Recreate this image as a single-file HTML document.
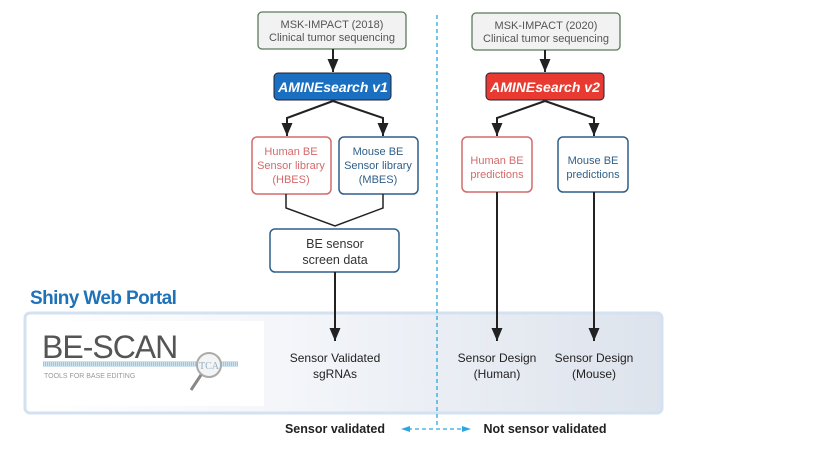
<!DOCTYPE html>
<html><head><meta charset="utf-8"><style>
html,body{margin:0;padding:0;background:#fff;}
svg{display:block;font-family:"Liberation Sans",sans-serif;}
</style></head><body>
<svg width="838" height="454" viewBox="0 0 838 454" xmlns="http://www.w3.org/2000/svg">
<defs>
<linearGradient id="pg" x1="0" x2="1" y1="0" y2="0">
<stop offset="0" stop-color="#ffffff"/><stop offset="0.4" stop-color="#f4f6fa"/><stop offset="1" stop-color="#dde3ec"/>
</linearGradient>
<marker id="ah" markerWidth="14" markerHeight="12" refX="13" refY="5.5" orient="auto" markerUnits="userSpaceOnUse">
<path d="M0,0 L13,5.5 L0,11 Z" fill="#222"/>
</marker>
</defs>
<!-- portal -->
<rect x="25" y="313" width="637" height="100" rx="5" fill="url(#pg)" stroke="#d3e1f1" stroke-width="3"/>
<rect x="34" y="321" width="230" height="85" fill="#fff"/>
<text x="42" y="358" font-size="32" fill="#555" letter-spacing="-1">BE-SCAN</text>
<rect x="43" y="361" width="195" height="6" fill="#cfe3ef"/>
<line x1="43" y1="364" x2="238" y2="364" stroke="#9cc7dd" stroke-width="4" stroke-dasharray="1 1"/>
<text x="44" y="378" font-size="7" fill="#999">TOOLS FOR BASE EDITING</text>
<circle cx="209" cy="365" r="12" fill="#f4f4f4" stroke="#aaa" stroke-width="2"/>
<text x="199" y="369" font-size="10" fill="#8fb0c8" font-family="Liberation Serif">TCA</text>
<line x1="201" y1="375" x2="191" y2="390" stroke="#888" stroke-width="3"/>
<text x="30" y="304" font-size="19" font-weight="bold" fill="#1f72b8" letter-spacing="-0.6">Shiny Web Portal</text>
<!-- dashed divider -->
<line x1="437" y1="15" x2="437" y2="428" stroke="#2aa7df" stroke-width="1.3" stroke-dasharray="4 3"/>
<!-- left column -->
<rect x="258" y="12" width="148" height="37" rx="4" fill="#f2f2f2" stroke="#5a7a5a" stroke-width="1.3"/>
<text x="332" y="28" font-size="11" fill="#555" text-anchor="middle">MSK-IMPACT (2018)</text>
<text x="332" y="41" font-size="11" fill="#555" text-anchor="middle">Clinical tumor sequencing</text>
<line x1="333" y1="49" x2="333" y2="72" stroke="#222" stroke-width="2" marker-end="url(#ah)"/>
<rect x="274" y="73" width="117" height="27" rx="4" fill="#1a6fc0" stroke="#223" stroke-width="1"/>
<text x="333" y="92" font-size="14" font-weight="bold" font-style="italic" fill="#fff" text-anchor="middle">AMINEsearch v1</text>
<polyline points="333,101 287,118 287,136" fill="none" stroke="#222" stroke-width="2" marker-end="url(#ah)"/>
<polyline points="333,101 383,118 383,136" fill="none" stroke="#222" stroke-width="2" marker-end="url(#ah)"/>
<rect x="252" y="137" width="79" height="57" rx="5" fill="#fff" stroke="#d46a6a" stroke-width="1.5"/>
<text font-size="11" fill="#d46a6a" text-anchor="middle"><tspan x="291" y="155">Human BE</tspan><tspan x="291" y="169">Sensor library</tspan><tspan x="291" y="183">(HBES)</tspan></text>
<rect x="339" y="137" width="79" height="57" rx="5" fill="#fff" stroke="#2f5f8a" stroke-width="1.5"/>
<text font-size="11" fill="#2f5f8a" text-anchor="middle"><tspan x="378" y="155">Mouse BE</tspan><tspan x="378" y="169">Sensor library</tspan><tspan x="378" y="183">(MBES)</tspan></text>
<polyline points="286,194 286,208 335,226 383,208 383,194" fill="none" stroke="#222" stroke-width="1.5"/>
<rect x="270" y="229" width="129" height="43" rx="5" fill="#fff" stroke="#2f5f8a" stroke-width="1.5"/>
<text x="335" y="248" font-size="12.5" fill="#333" text-anchor="middle">BE sensor</text>
<text x="335" y="264" font-size="12.5" fill="#333" text-anchor="middle">screen data</text>
<line x1="335" y1="272" x2="335" y2="341" stroke="#222" stroke-width="2" marker-end="url(#ah)"/>
<text x="335" y="362" font-size="12" fill="#222" text-anchor="middle">Sensor Validated</text>
<text x="335" y="378" font-size="12" fill="#222" text-anchor="middle">sgRNAs</text>
<!-- right column -->
<rect x="472" y="13" width="148" height="37" rx="4" fill="#f2f2f2" stroke="#5a7a5a" stroke-width="1.3"/>
<text x="546" y="29" font-size="11" fill="#555" text-anchor="middle">MSK-IMPACT (2020)</text>
<text x="546" y="42" font-size="11" fill="#555" text-anchor="middle">Clinical tumor sequencing</text>
<line x1="545" y1="50" x2="545" y2="72" stroke="#222" stroke-width="2" marker-end="url(#ah)"/>
<rect x="486" y="73" width="118" height="27" rx="4" fill="#e83a30" stroke="#223" stroke-width="1"/>
<text x="545" y="92" font-size="14" font-weight="bold" font-style="italic" fill="#fff" text-anchor="middle">AMINEsearch v2</text>
<polyline points="545,101 497,118 497,136" fill="none" stroke="#222" stroke-width="2" marker-end="url(#ah)"/>
<polyline points="545,101 594,118 594,136" fill="none" stroke="#222" stroke-width="2" marker-end="url(#ah)"/>
<rect x="462" y="137" width="70" height="55" rx="5" fill="#fff" stroke="#d46a6a" stroke-width="1.5"/>
<text font-size="11" fill="#d46a6a" text-anchor="middle"><tspan x="497" y="164">Human BE</tspan><tspan x="497" y="178">predictions</tspan></text>
<rect x="558" y="137" width="70" height="55" rx="5" fill="#fff" stroke="#2f5f8a" stroke-width="1.5"/>
<text font-size="11" fill="#2f5f8a" text-anchor="middle"><tspan x="593" y="164">Mouse BE</tspan><tspan x="593" y="178">predictions</tspan></text>
<line x1="497" y1="192" x2="497" y2="341" stroke="#222" stroke-width="2" marker-end="url(#ah)"/>
<line x1="594" y1="192" x2="594" y2="341" stroke="#222" stroke-width="2" marker-end="url(#ah)"/>
<text x="497" y="362" font-size="12" fill="#222" text-anchor="middle">Sensor Design</text>
<text x="497" y="378" font-size="12" fill="#222" text-anchor="middle">(Human)</text>
<text x="594" y="362" font-size="12" fill="#222" text-anchor="middle">Sensor Design</text>
<text x="594" y="378" font-size="12" fill="#222" text-anchor="middle">(Mouse)</text>
<!-- bottom labels -->
<text x="335" y="433" font-size="12.5" font-weight="bold" fill="#222" text-anchor="middle">Sensor validated</text>
<text x="545" y="433" font-size="12.5" font-weight="bold" fill="#222" text-anchor="middle">Not sensor validated</text>
<line x1="408" y1="429" x2="464" y2="429" stroke="#2aa7df" stroke-width="1.3" stroke-dasharray="4 3"/>
<path d="M401,429 L410,426 L410,432 Z" fill="#2aa7df"/>
<path d="M471,429 L462,426 L462,432 Z" fill="#2aa7df"/>
</svg>
</body></html>
